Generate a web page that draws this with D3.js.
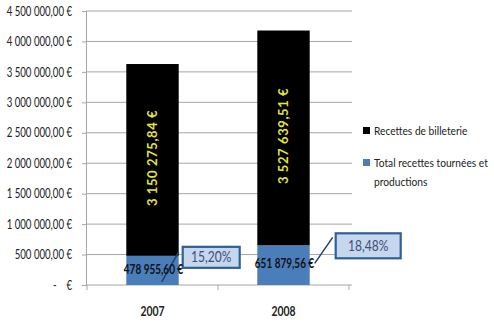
<!DOCTYPE html>
<html><head><meta charset="utf-8">
<script src="https://cdn.jsdelivr.net/npm/d3@7"></script>
<style>
body{margin:0;background:#fff;}
text{font-family:Lato,"Liberation Sans",sans-serif;}
</style></head>
<body><svg id="c" width="494" height="327"></svg>
<script>
const years = ["2007", "2008"];
const billeterie = [3150275.84, 3527639.51];
const tournees = [478955.60, 651879.56];
const shareLabels = ["15,20%", "18,48%"];
const yTicks = [0, 500000, 1000000, 1500000, 2000000, 2500000, 3000000, 3500000, 4000000, 4500000];
const seriesNames = ["Recettes de billeterie", "Total recettes tournées et productions"];
const colors = ["#000000", "#4a7ebb"];

const svg = d3.select("#c");
const x = d3.scaleBand().domain(years).range([87, 349]).paddingInner(0.6).paddingOuter(0.3);
const y = d3.scaleLinear().domain([0, 4500000]).range([285, 11]);

function fmtMoney(v){
  const parts = v.toFixed(2).split(".");
  const int = parts[0].replace(/\B(?=(\d{3})+(?!\d))/g, " ");
  return int + "," + parts[1] + " €";
}
// squeeze text horizontally to mimic a condensed face
function squeeze(sel, f){
  sel.each(function(){
    const w = this.getComputedTextLength();
    if (w > 0) d3.select(this).attr("textLength", w * f).attr("lengthAdjust", "spacingAndGlyphs");
  });
}

// gridlines
svg.append("g").selectAll("line").data(yTicks.slice(1)).join("line")
  .attr("x1", 86).attr("x2", 352).attr("y1", d => y(d)).attr("y2", d => y(d))
  .attr("stroke", "#a6a6a6").attr("stroke-width", 1);

// y axis
const yAxis = d3.axisLeft(y).tickValues(yTicks).tickSize(4).tickPadding(10)
  .tickFormat(d => d === 0 ? "-    €" : fmtMoney(d));
const ya = svg.append("g").attr("transform", "translate(86,0)").call(yAxis);
ya.select(".domain").attr("stroke", "#a6a6a6");
ya.selectAll(".tick line").attr("stroke", "#a6a6a6");
ya.selectAll("text").attr("font-size", 13).attr("fill", "#222").attr("xml:space", "preserve");
squeeze(ya.selectAll("text"), 0.74);

// x axis
const xa = svg.append("g").attr("transform", "translate(0,285)")
  .call(d3.axisBottom(x).tickSize(0).tickPadding(22));
xa.select(".domain").attr("stroke", "#a6a6a6").attr("d", "M86,0H352");
xa.selectAll("text").attr("font-size", 13).attr("font-weight", "bold").attr("fill", "#222");
squeeze(xa.selectAll("text"), 0.8);
svg.append("g").selectAll("line").data([87, 218, 349]).join("line")
  .attr("x1", d => d).attr("x2", d => d).attr("y1", 285).attr("y2", 290)
  .attr("stroke", "#a6a6a6");

// bars
const g = svg.append("g");
g.selectAll("rect.t").data(years).join("rect").attr("class", "t")
  .attr("x", d => x(d)).attr("width", x.bandwidth())
  .attr("y", (d, i) => y(tournees[i])).attr("height", (d, i) => y(0) - y(tournees[i]))
  .attr("fill", colors[1]);
g.selectAll("rect.b").data(years).join("rect").attr("class", "b")
  .attr("x", d => x(d)).attr("width", x.bandwidth())
  .attr("y", (d, i) => y(tournees[i] + billeterie[i]))
  .attr("height", (d, i) => y(tournees[i]) - y(tournees[i] + billeterie[i]))
  .attr("fill", colors[0]);

// vertical yellow labels
g.selectAll("text.v").data(years).join("text").attr("class", "v")
  .attr("transform", (d, i) => `translate(${x(d) + x.bandwidth() / 2 + 4},${(y(tournees[i]) + y(tournees[i] + billeterie[i])) / 2 - 2}) rotate(-90)`)
  .attr("text-anchor", "middle").attr("font-size", 13).attr("font-weight", "bold")
  .attr("fill", "#e4e43c").attr("letter-spacing", 0.6).text((d, i) => fmtMoney(billeterie[i]));

// percentage callouts (drawn before the value labels)
const callouts = [
  {dx: 4, dy: -9, w: 57, h: 21, lx1: -4, ly1: 5, lx2: -17, ly2: 26},
  {dx: 26, dy: -12, w: 65, h: 25, lx1: -3, ly1: 4, lx2: 5, ly2: 18}
];
years.forEach((yr, i) => {
  const c = callouts[i];
  const right = x(yr) + x.bandwidth();
  const top = y(tournees[i]);
  const bx = right + c.dx, by = top + c.dy;
  svg.append("line").attr("x1", bx + c.lx1).attr("y1", by + c.ly1)
    .attr("x2", right + c.lx2).attr("y2", top + c.ly2)
    .attr("stroke", "#1f3f6e").attr("stroke-width", 1.5);
  svg.append("rect").attr("x", bx).attr("y", by).attr("width", c.w).attr("height", c.h)
    .attr("fill", "#c6d6ec").attr("stroke", "#2e5f96").attr("stroke-width", 2.2);
  const t = svg.append("text").attr("x", bx + c.w / 2).attr("y", by + c.h / 2 + 5)
    .attr("text-anchor", "middle").attr("font-size", 15).attr("fill", "#3a4f7a")
    .text(shareLabels[i]);
  squeeze(t, 0.8);
});

// bottom value labels
const labOff = [18, 23];
const bl = svg.append("g").selectAll("text.l").data(years).join("text").attr("class", "l")
  .attr("x", d => x(d) + x.bandwidth() / 2 + 1)
  .attr("y", (d, i) => y(tournees[i]) + labOff[i])
  .attr("text-anchor", "middle").attr("font-size", 13.5).attr("font-weight", "bold")
  .attr("fill", "#111").text((d, i) => fmtMoney(tournees[i]));
squeeze(bl, 0.74);

// legend (condensed through a horizontal scale)
const leg = svg.append("g");
const legY = [131, 163];
leg.selectAll("rect").data(seriesNames).join("rect")
  .attr("x", 363).attr("y", (d, i) => legY[i] - 4).attr("width", 7).attr("height", 7)
  .attr("fill", (d, i) => colors[i]);
const legLines = [
  {t: seriesNames[0], yy: legY[0] + 4},
  {t: "Total recettes tournées et", yy: legY[1] + 4},
  {t: "productions", yy: legY[1] + 23}
];
leg.selectAll("text").data(legLines).join("text")
  .attr("transform", d => `translate(374,${d.yy}) scale(0.85,1)`)
  .attr("font-size", 12).attr("fill", "#222").text(d => d.t);
</script></body></html>
